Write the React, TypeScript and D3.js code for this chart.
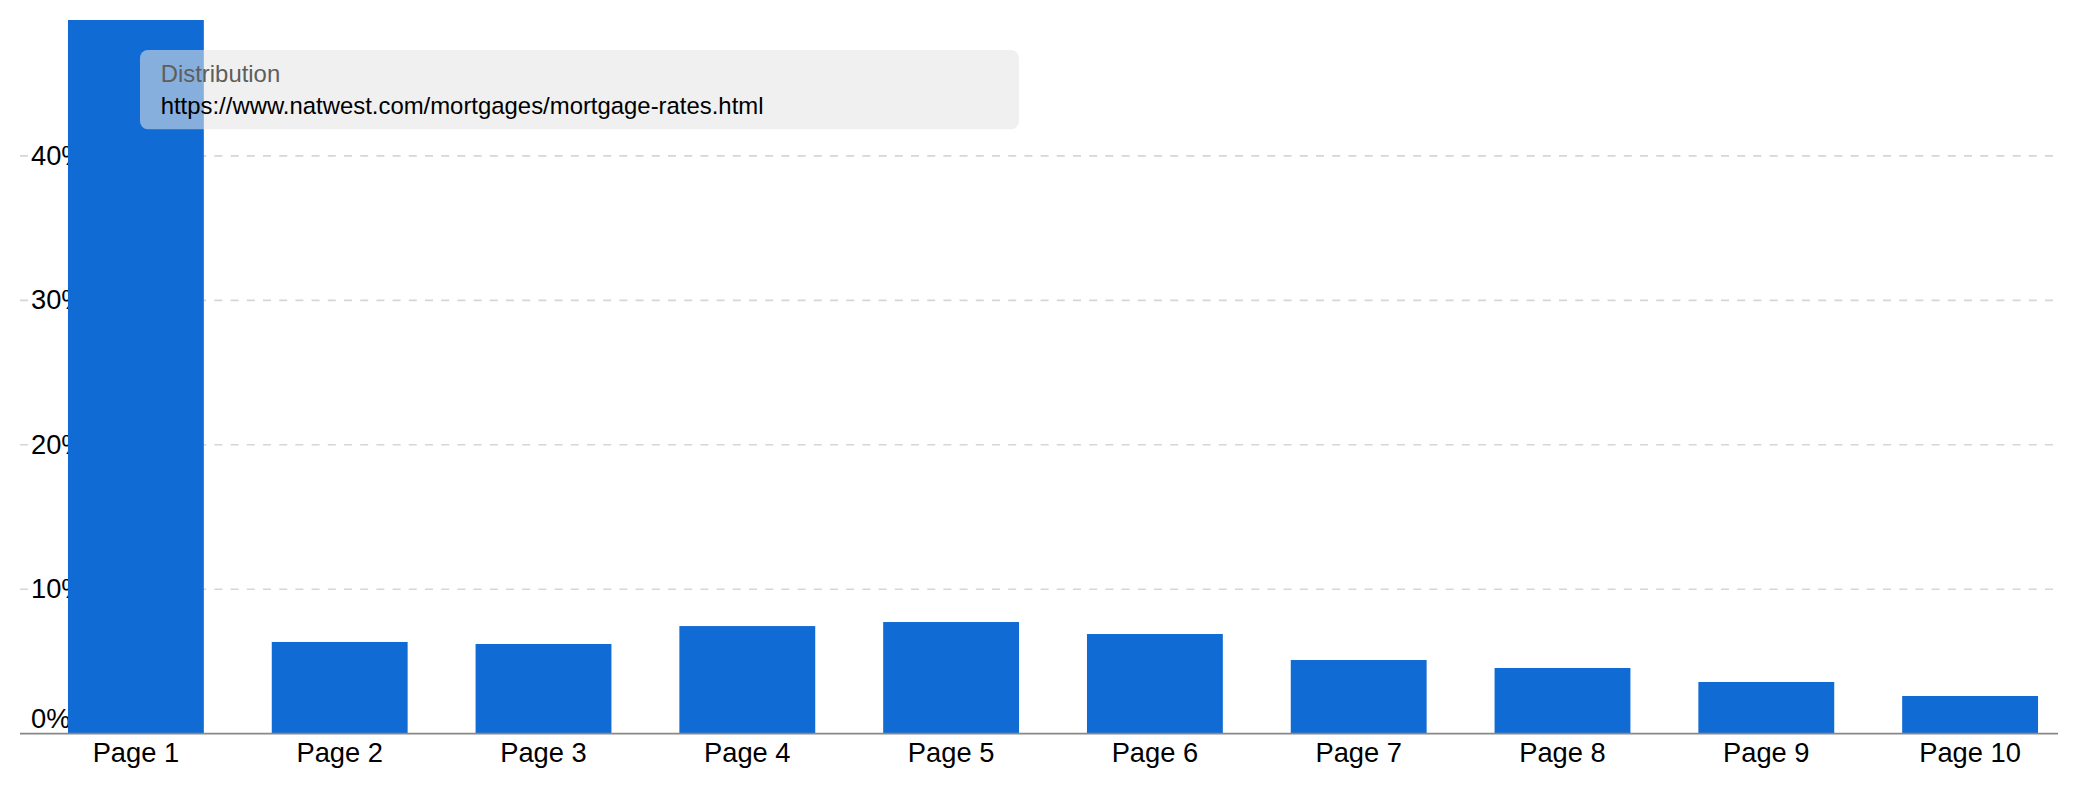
import React from 'react';
import * as d3 from 'd3';

const pages = ['Page 1', 'Page 2', 'Page 3', 'Page 4', 'Page 5', 'Page 6', 'Page 7', 'Page 8', 'Page 9', 'Page 10'];
const distribution = [49.5, 6.35, 6.21, 7.45, 7.73, 6.9, 5.1, 4.55, 3.58, 2.61];
const yTicks = [0, 10, 20, 30, 40];
const yMax = 49.4;
const seriesName = 'Distribution';
const seriesUrl = 'https://www.natwest.com/mortgages/mortgage-rates.html';

const width = 2078;
const height = 800;
const font = '"Liberation Sans", Arial, sans-serif';

export default function App() {
    const plot = { left: 20, right: 2058, top: 20, bottom: 733.7 };

    const x = d3.scaleBand<string>()
        .domain(pages)
        .range([34, 2072])
        .paddingInner(1 / 3)
        .paddingOuter(1 / 6);

    const y = d3.scaleLinear()
        .domain([0, yMax])
        .range([plot.bottom, plot.top]);

    const fmt = (v: number) => `${v}%`;

    return (
        <div style={{ position: 'fixed', left: 0, top: 0 }}>
            <svg width={width} height={height} style={{ display: 'block' }} fontFamily={font}>
                <defs>
                    <clipPath id="plot-clip">
                        <rect x={0} y={plot.top} width={width} height={plot.bottom - plot.top} />
                    </clipPath>
                </defs>
                <rect width={width} height={height} fill="#fff" />

                {/* gridlines */}
                {yTicks.filter(t => t > 0).map(t => (
                    <line key={t} x1={plot.left} x2={plot.right} y1={y(t)} y2={y(t)}
                        stroke="#d6d6d6" strokeWidth={1.7} strokeDasharray="8,8.2" />
                ))}

                {/* y labels */}
                {yTicks.map(t => (
                    <g key={t}>
                        <rect x={29} y={y(t) - 14} width={40} height={28} fill="#fff" opacity={t === 0 ? 0 : 1} />
                        <text x={31} y={t === 0 ? plot.bottom - 5.4 : y(t) + 9} fontSize={27.3} fill="#000">
                            {fmt(t)}
                        </text>
                    </g>
                ))}

                {/* bars */}
                <g clipPath="url(#plot-clip)">
                    {pages.map((p, i) => (
                        <rect key={p} x={x(p)} y={y(distribution[i])} width={x.bandwidth()}
                            height={plot.bottom - y(distribution[i])} fill="#116bd4" />
                    ))}
                </g>

                {/* baseline */}
                <line x1={plot.left} x2={plot.right} y1={plot.bottom} y2={plot.bottom}
                    stroke="#888" strokeWidth={1.7} />

                {/* x labels */}
                {pages.map(p => (
                    <text key={p} x={(x(p) ?? 0) + x.bandwidth() / 2} y={761.7} fontSize={27.3}
                        textAnchor="middle" fill="#000">{p}</text>
                ))}

                {/* hover tooltip */}
                <rect x={140} y={50} width={879} height={79.3} rx={8} ry={8}
                    fill="rgb(228,228,228)" fillOpacity={0.56} />
                <text x={160.7} y={81.7} fontSize={23.9} fill="#5e5e5e">{seriesName}</text>
                <text x={160.7} y={114} fontSize={23.9} fill="#000">{seriesUrl}</text>
            </svg>
        </div>
    );
}
